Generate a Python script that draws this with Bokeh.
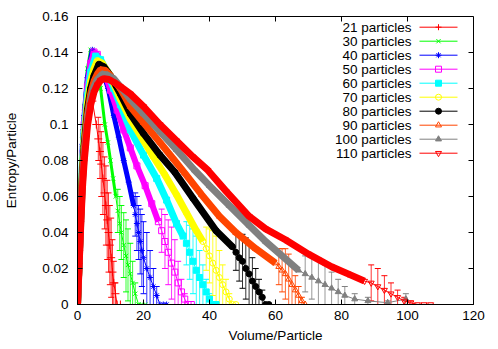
from bokeh.plotting import figure
from bokeh.models import FixedTicker, Range1d, Whisker, TeeHead, ColumnDataSource
from bokeh.embed import file_html
from bokeh.resources import INLINE
from bokeh.core.properties import value

# ---------------- data ----------------
X_TICKS = [0, 20, 40, 60, 80, 100, 120]
Y_TICKS = [0, 0.02, 0.04, 0.06, 0.08, 0.1, 0.12, 0.14, 0.16]
Y_TICK_LABELS = ["0", "0.02", "0.04", "0.06", "0.08", "0.1", "0.12", "0.14", "0.16"]

LABELS = ["21 particles", "30 particles", "40 particles", "50 particles", "60 particles",
          "70 particles", "80 particles", "90 particles", "100 particles", "110 particles"]
COLORS = ["#ff0000", "#00ff00", "#0000ff", "#ff00ff", "#00ffff",
          "#ffff00", "#000000", "#ff4500", "#808080", "#ff0000"]
MARKERS = ["cross", "x", "asterisk", "square", "square",
           "circle", "circle", "triangle", "triangle", "inverted_triangle"]
FILLED = [False, False, False, False, True, False, True, False, True, False]

# main (dense) part of each curve
x21 = [0, 0.5, 1, 1.5, 2, 2.5, 3.5, 4.5, 5.7]
y21 = [0, 0.03, 0.058, 0.08, 0.097, 0.108, 0.12, 0.113, 0.1]
x30 = [0, 0.5, 1, 1.5, 2, 3, 4, 5, 6, 7, 8.3, 9.2, 10, 10.8, 11.6]
y30 = [0, 0.034, 0.068, 0.094, 0.11, 0.131, 0.1415, 0.137, 0.13, 0.12, 0.1, 0.09, 0.08, 0.07, 0.06]
x40 = [0, 0.5, 1, 1.5, 2, 3, 4.5, 6, 7.5, 9.3, 11, 12.5, 14, 15.5, 17]
y40 = [0, 0.032, 0.064, 0.089, 0.105, 0.126, 0.1415, 0.138, 0.13, 0.12, 0.105, 0.093, 0.08, 0.068, 0.055]
x50 = [0, 0.5, 1, 1.5, 2, 3, 4, 5, 6, 8, 10, 12, 14, 16, 18, 20.5, 22.5, 24.5]
y50 = [0, 0.03, 0.06, 0.084, 0.1, 0.121, 0.134, 0.1403, 0.139, 0.13, 0.119, 0.108, 0.097, 0.087, 0.077, 0.066, 0.056, 0.046]
x60 = [0, 0.5, 1, 1.5, 2, 3, 4, 5.5, 7, 9, 11, 13, 16, 20, 24, 27, 30, 32]
y60 = [0, 0.028, 0.057, 0.08, 0.095, 0.116, 0.129, 0.138, 0.136, 0.129, 0.12, 0.111, 0.097, 0.083, 0.07, 0.058, 0.045, 0.038]
x70 = [0, 0.5, 1, 1.5, 2, 3, 4, 5, 6, 7.5, 10, 13, 16, 20, 23, 26.5, 30, 33, 36, 38]
y70 = [0, 0.026, 0.053, 0.076, 0.091, 0.112, 0.124, 0.131, 0.1355, 0.134, 0.127, 0.114, 0.103, 0.091, 0.082, 0.072, 0.061, 0.051, 0.041, 0.035]
x80 = [0, 0.5, 1, 1.5, 2, 3, 4, 5, 6.5, 8, 10, 13, 16, 20, 25, 29.5, 35, 42, 47]
y80 = [0, 0.025, 0.051, 0.073, 0.088, 0.108, 0.12, 0.127, 0.1335, 0.132, 0.127, 0.117, 0.106, 0.095, 0.083, 0.0735, 0.059, 0.041, 0.032]
x90 = [0, 0.5, 1, 1.5, 2, 3, 4, 5, 6, 7, 8.5, 10, 13, 16, 20, 25, 29, 32.5, 37.6, 43, 48, 54, 60]
y90 = [0, 0.024, 0.049, 0.07, 0.085, 0.105, 0.117, 0.124, 0.128, 0.1305, 0.13, 0.127, 0.12, 0.11, 0.101, 0.09, 0.081, 0.073, 0.061, 0.049, 0.04, 0.031, 0.023]
x100 = [0, 0.5, 1, 1.5, 2, 3, 4, 5, 6, 7.5, 9, 11, 13, 16, 20, 25, 30, 35.5, 40, 46, 52, 57, 62, 67]
y100 = [0, 0.023, 0.047, 0.068, 0.082, 0.102, 0.114, 0.121, 0.125, 0.128, 0.1275, 0.1255, 0.121, 0.114, 0.106, 0.096, 0.086, 0.0746, 0.066, 0.055, 0.044, 0.035, 0.027, 0.019]
x110 = [0, 0.5, 1, 1.5, 2, 3, 4, 5, 6, 7, 8, 9.5, 11, 13, 16, 20, 25, 30, 35, 39.5, 45, 52, 57, 63, 70, 77, 82, 87]
y110 = [0, 0.022, 0.045, 0.065, 0.079, 0.099, 0.111, 0.118, 0.122, 0.1245, 0.1255, 0.125, 0.1235, 0.121, 0.117, 0.11, 0.1, 0.091, 0.082, 0.0746, 0.063, 0.049, 0.042, 0.036, 0.028, 0.021, 0.017, 0.013]

# noisy tail of each curve: x, y, error
tx21 = [6.3, 6.8, 7.2, 7.7, 8.2, 8.6, 9, 9.4, 9.8, 10.2, 10.6, 11, 11.5, 12, 13]
ty21 = [0.092, 0.085, 0.078, 0.07, 0.062, 0.055, 0.047, 0.04, 0.033, 0.026, 0.018, 0.012, 0.006, 0, 0]
te21 = [0.012, 0.015, 0.018, 0.02, 0.02, 0.022, 0.022, 0.022, 0.022, 0.022, 0.018, 0.012, 0.006, 0, 0]
tx30 = [12.2, 12.8, 13.3, 14, 14.7, 15.3, 16, 16.7, 17.5, 18.5, 19.5, 20.5]
ty30 = [0.052, 0.045, 0.04, 0.033, 0.027, 0.022, 0.017, 0.012, 0.006, 0, 0, 0]
te30 = [0.012, 0.015, 0.015, 0.018, 0.02, 0.02, 0.017, 0.012, 0.006, 0, 0, 0]
tx40 = [17.5, 18, 18.5, 19, 19.5, 20, 21, 22, 23, 24, 25, 26, 27]
ty40 = [0.05, 0.045, 0.04, 0.035, 0.03, 0.026, 0.02, 0.015, 0.01, 0.005, 0, 0, 0]
te40 = [0.012, 0.015, 0.015, 0.018, 0.02, 0.02, 0.02, 0.015, 0.01, 0.005, 0, 0, 0]
tx50 = [25.5, 26.5, 27.5, 28.5, 29.5, 30.5, 31.5, 32.5, 33.5, 34.5]
ty50 = [0.041, 0.035, 0.029, 0.023, 0.018, 0.012, 0.007, 0.003, 0, 0]
te50 = [0.012, 0.015, 0.018, 0.02, 0.018, 0.012, 0.007, 0.003, 0, 0]
tx60 = [33, 34, 35, 36, 37, 38, 39, 40, 41, 42]
ty60 = [0.034, 0.029, 0.024, 0.019, 0.015, 0.011, 0.007, 0.003, 0, 0]
te60 = [0.012, 0.015, 0.018, 0.019, 0.015, 0.011, 0.007, 0.003, 0, 0]
tx70 = [39, 40, 41, 42, 43, 44, 45, 46, 47, 48]
ty70 = [0.031, 0.027, 0.023, 0.019, 0.015, 0.011, 0.007, 0.003, 0, 0]
te70 = [0.012, 0.015, 0.018, 0.019, 0.015, 0.011, 0.007, 0.003, 0, 0]
tx80 = [48, 49, 50, 51, 52, 53, 54, 55, 56, 57, 58]
ty80 = [0.029, 0.026, 0.024, 0.02, 0.017, 0.013, 0.01, 0.007, 0.004, 0, 0]
te80 = [0.01, 0.013, 0.015, 0.017, 0.017, 0.013, 0.01, 0.007, 0.004, 0, 0]
tx90 = [61, 62, 63, 64, 65, 66, 67, 68, 69]
ty90 = [0.021, 0.019, 0.017, 0.014, 0.011, 0.008, 0.005, 0.002, 0]
te90 = [0.01, 0.012, 0.014, 0.014, 0.011, 0.008, 0.005, 0.002, 0]
tx100 = [69, 71, 73, 75, 77, 79, 81, 84, 88, 94, 99.5]
ty100 = [0.017, 0.015, 0.013, 0.011, 0.009, 0.007, 0.005, 0.003, 0.002, 0.001, 0.003]
te100 = [0.01, 0.012, 0.013, 0.011, 0.009, 0.007, 0.005, 0.003, 0.002, 0.001, 0.003]
tx110 = [89, 91, 93, 95, 97, 99, 101, 103, 105, 107]
ty110 = [0.012, 0.01, 0.008, 0.006, 0.004, 0.002, 0.001, 0, 0, 0]
te110 = [0.01, 0.01, 0.008, 0.006, 0.004, 0.002, 0.001, 0, 0, 0]

MAIN_X = [x21, x30, x40, x50, x60, x70, x80, x90, x100, x110]
MAIN_Y = [y21, y30, y40, y50, y60, y70, y80, y90, y100, y110]
TAIL_X = [tx21, tx30, tx40, tx50, tx60, tx70, tx80, tx90, tx100, tx110]
TAIL_Y = [ty21, ty30, ty40, ty50, ty60, ty70, ty80, ty90, ty100, ty110]
TAIL_E = [te21, te30, te40, te50, te60, te70, te80, te90, te100, te110]

# ---------------- style / layout ----------------
FONT = "Liberation Sans"
FS = "13.5px"
BAND_W = [1, 3, 5, 6, 7, 7, 7, 7, 7, 7]
X0, X1, Y0, Y1 = 0, 120, 0, 0.16
W, H = 498, 349
B_LEFT, B_RIGHT, B_TOP, B_BOTTOM = 77, 25, 16, 45
TICK_PX = 5

p = figure(width=W, height=H, x_range=Range1d(X0, X1), y_range=Range1d(Y0, Y1),
           output_backend="svg", toolbar_location=None,
           min_border_left=B_LEFT, min_border_right=B_RIGHT,
           min_border_top=B_TOP, min_border_bottom=B_BOTTOM,
           background_fill_color="white", border_fill_color="white")
p.outline_line_color = "black"
p.xgrid.visible = False
p.ygrid.visible = False

xax = p.xaxis[0]
yax = p.yaxis[0]
xax.ticker = FixedTicker(ticks=X_TICKS)
xax.axis_label = "Volume/Particle"
xax.major_label_standoff = 6
xax.axis_label_standoff = 5
yax.ticker = FixedTicker(ticks=Y_TICKS)
yax.major_label_overrides = {t: l for t, l in zip(Y_TICKS, Y_TICK_LABELS)}
yax.axis_label = "Entropy/Particle"
yax.major_label_standoff = 9
yax.axis_label_standoff = 20

for ax in [xax, yax]:
    ax.major_tick_in = TICK_PX
    ax.major_tick_out = 0
    ax.minor_tick_line_color = None
    ax.axis_line_color = "black"
    ax.major_tick_line_color = "black"
    ax.major_label_text_font = FONT
    ax.major_label_text_font_size = FS
    ax.major_label_text_color = "black"
    ax.axis_label_text_font = FONT
    ax.axis_label_text_font_size = FS
    ax.axis_label_text_font_style = "normal"
    ax.axis_label_text_color = "black"

# mirrored ticks on top and right edges of the frame
frame_w = W - B_LEFT - B_RIGHT
frame_h = H - B_TOP - B_BOTTOM
PX_PER_X = frame_w / (X1 - X0)
PX_PER_Y = frame_h / (Y1 - Y0)
tx_len = TICK_PX / PX_PER_X
ty_len = TICK_PX / PX_PER_Y
p.segment(x0=X_TICKS, y0=[Y1] * len(X_TICKS), x1=X_TICKS, y1=[Y1 - ty_len] * len(X_TICKS),
          line_color="black", line_width=1)
p.segment(x0=[X1] * len(Y_TICKS), y0=Y_TICKS, x1=[X1 - tx_len] * len(Y_TICKS), y1=Y_TICKS,
          line_color="black", line_width=1)

for i in range(10):
    c = COLORS[i]
    mx, my = MAIN_X[i], MAIN_Y[i]
    tx, ty, te = TAIL_X[i], TAIL_Y[i], TAIL_E[i]
    fill = c if FILLED[i] else None
    msize = 8 if i == 0 else 6
    # thick band
    p.line(mx, my, line_color=c, line_width=BAND_W[i])
    p.scatter(mx, my, marker=MARKERS[i], size=msize, line_color=c, fill_color=fill, line_width=1)
    # tail with error bars
    lx = [mx[-1]] + tx
    ly = [my[-1]] + ty
    p.line(lx, ly, line_color=c, line_width=1)
    src = ColumnDataSource(dict(x=tx, up=[a + b for a, b in zip(ty, te)],
                                lo=[max(0.0, a - b) for a, b in zip(ty, te)]))
    p.add_layout(Whisker(source=src, base="x", upper="up", lower="lo", line_color=c, line_width=1,
                         line_alpha=0.8,
                         upper_head=TeeHead(size=6, line_color=c, line_width=1),
                         lower_head=TeeHead(size=6, line_color=c, line_width=1)))
    p.scatter(tx, ty, marker=MARKERS[i], size=msize, line_color=c, fill_color=fill, line_width=1)

# ---------------- legend (gnuplot style: label left, sample right) ----------------
LEG_TEXT_PX, LEG_L0_PX, LEG_L1_PX, LEG_M_PX = 411, 419, 457, 438
LEG_ROW0_PX, LEG_ROW_STEP_PX = 26.7, 14.0
frame_bottom_px = H - B_BOTTOM


def px_to_x(px):
    return X0 + (px - B_LEFT) / PX_PER_X


def py_to_y(py):
    return Y0 + (frame_bottom_px - py) / PX_PER_Y


for i in range(10):
    yy = py_to_y(LEG_ROW0_PX + i * LEG_ROW_STEP_PX)
    c = COLORS[i]
    p.text(x=[px_to_x(LEG_TEXT_PX)], y=[yy], text=[LABELS[i]], text_align="right",
           text_baseline="middle", text_font=value(FONT), text_font_size=FS, text_color="black")
    p.line([px_to_x(LEG_L0_PX), px_to_x(LEG_L1_PX)], [yy, yy], line_color=c, line_width=1)
    p.scatter([px_to_x(LEG_M_PX)], [yy], marker=MARKERS[i], size=6, line_color=c,
              fill_color=(c if FILLED[i] else None), line_width=1)

open("out.html", "w").write(file_html(p, INLINE))
